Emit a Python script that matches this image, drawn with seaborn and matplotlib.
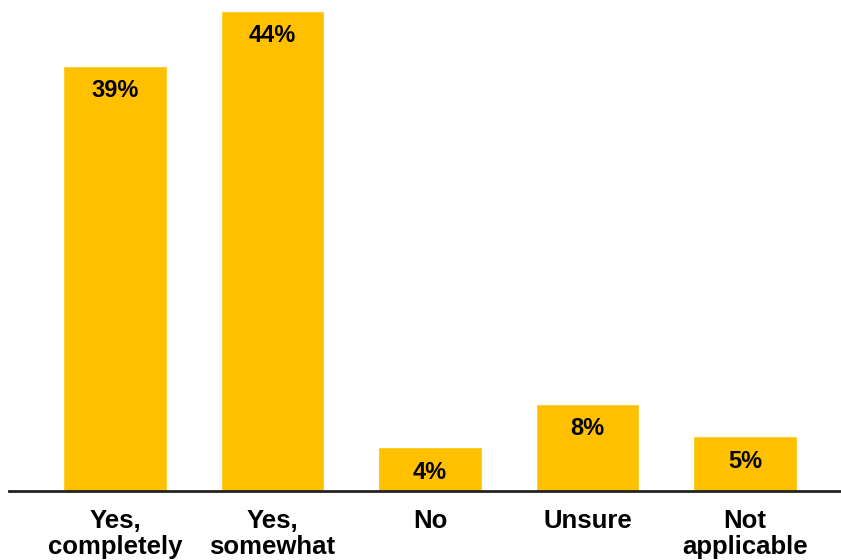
import matplotlib
matplotlib.use("Agg")
import matplotlib.pyplot as plt
import seaborn as sns
import pandas as pd

categories = ["Yes,\ncompletely", "Yes,\nsomewhat", "No", "Unsure", "Not\napplicable"]
shares = [39, 44, 4, 8, 5]
value_labels = ["39%", "44%", "4%", "8%", "5%"]

sns.set_theme(style="white")
plt.rcParams["font.family"] = ["Liberation Sans", "DejaVu Sans"]

df = pd.DataFrame({"category": categories, "share": shares})

fig = plt.figure(figsize=(8.41, 5.6), dpi=100)
base_frac = 491 / 560
left = 9 / 841
ax = fig.add_axes([left, 1 - base_frac, 1 - left, base_frac])

sns.barplot(data=df, x="category", y="share", color="#FFC000",
            saturation=1, width=0.655, ax=ax)

ax.set_xlim(-0.673, 4.61)
ax.set_ylim(0, 44 * 491 / 480)

for p, lab in zip(ax.patches, value_labels):
    ax.annotate(lab, (p.get_x() + p.get_width() / 2, p.get_height()),
                xytext=(0, -25), textcoords="offset pixels",
                ha="center", va="center", fontsize=17, fontweight="bold",
                color="black")

for side in ["top", "right", "left"]:
    ax.spines[side].set_visible(False)
ax.spines["bottom"].set_color("#222222")
ax.spines["bottom"].set_linewidth(2)
ax.set_yticks([])
ax.set_xlabel("")
ax.set_ylabel("")
ax.tick_params(axis="x", length=0, pad=13)
for t in ax.get_xticklabels():
    t.set_fontsize(18.5)
    t.set_fontweight("bold")
    t.set_color("black")
    t.set_linespacing(1.1)
    t.set_verticalalignment("top")

fig.savefig("out.png", dpi=100)
